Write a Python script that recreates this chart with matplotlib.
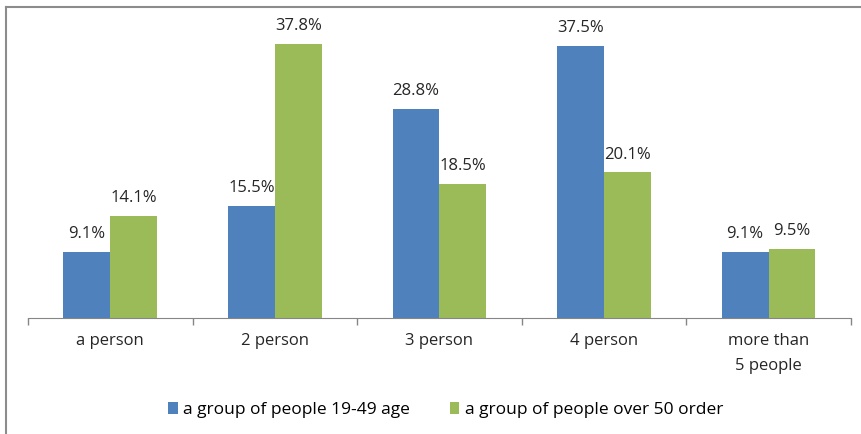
import matplotlib.pyplot as plt
import numpy as np
from matplotlib.lines import Line2D

plt.rcParams['font.family'] = ['Open Sans', 'DejaVu Sans']

categories = ['a person', '2 person', '3 person', '4 person', 'more than\n5 people']
young = [9.1, 15.5, 28.8, 37.5, 9.1]
older = [14.1, 37.8, 18.5, 20.1, 9.5]
series_names = ['a group of people 19-49 age', 'a group of people over 50 order']

blue = '#4F81BD'
green = '#9BBB59'

fig = plt.figure(figsize=(8.62, 4.34), dpi=100)
ax = fig.add_axes([0.0325, 0.267, 0.9545, 0.687])

x = np.arange(len(categories))
w = 0.285
b1 = ax.bar(x - w / 2, young, w, color=blue, label=series_names[0])
b2 = ax.bar(x + w / 2, older, w, color=green, label=series_names[1])

for bars, vals in [(b1, young), (b2, older)]:
    for r, v in zip(bars, vals):
        ax.annotate(f'{v}%', (r.get_x() + r.get_width() / 2, v),
                    xytext=(0, 7), textcoords='offset points',
                    ha='center', va='bottom', fontsize=12, color='#262626')

ax.set_xlim(-0.5, len(categories) - 0.5)
ax.set_ylim(0, 41.1)
ax.set_yticks([])
ax.set_xticks(x)
ax.set_xticklabels(categories, fontsize=12, color='#262626', linespacing=1.75)
ax.tick_params(axis='x', length=0, pad=11)
ax.set_xticks(np.arange(-0.5, len(categories)), minor=True)
ax.tick_params(axis='x', which='minor', length=5, color='#868686', width=1)
for s in ['top', 'right', 'left']:
    ax.spines[s].set_visible(False)
ax.spines['bottom'].set_color('#868686')

fig.legend(handles=[b1, b2], loc='center', bbox_to_anchor=(0.517, 0.055), ncol=2,
           frameon=False, fontsize=12.5, handlelength=0.55, handleheight=0.7,
           handletextpad=0.3, columnspacing=2.3)

# outer chart border (top and left edges visible)
fig.add_artist(Line2D([6 / 862, 6 / 862], [0, 1 - 7 / 434], transform=fig.transFigure,
                      color='#8c8c8c', lw=1.5))
fig.add_artist(Line2D([6 / 862, 1], [1 - 7 / 434, 1 - 7 / 434], transform=fig.transFigure,
                      color='#8c8c8c', lw=1.5))

fig.savefig('out.png', dpi=100)
